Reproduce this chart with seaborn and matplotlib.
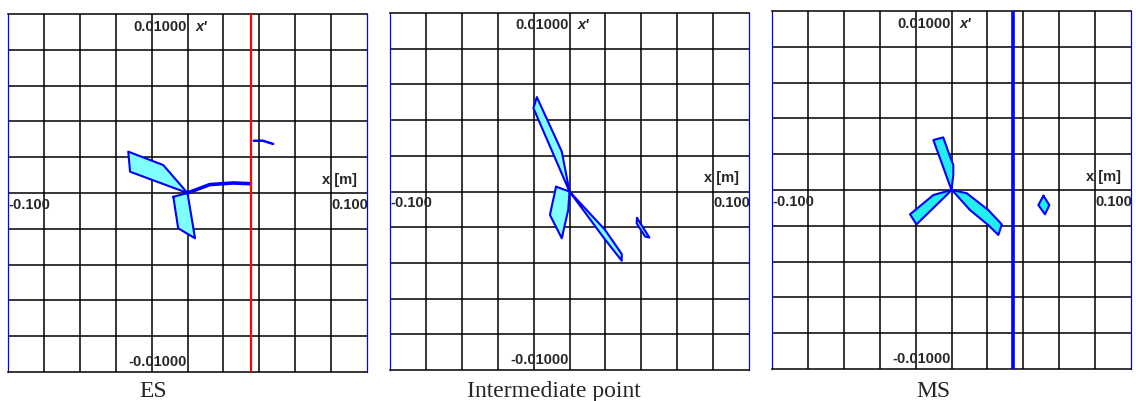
import matplotlib
matplotlib.use("Agg")
import matplotlib.pyplot as plt
import seaborn as sns
import numpy as np
import pandas as pd

# ---------------- data ----------------
panel_titles = ["ES", "Intermediate point", "MS"]
x_ticks = [-0.10, -0.08, -0.06, -0.04, -0.02, 0.0, 0.02, 0.04, 0.06, 0.08, 0.10]
y_ticks = [-0.010, -0.008, -0.006, -0.004, -0.002, 0.0, 0.002, 0.004, 0.006, 0.008, 0.010]
x_min_label, x_max_label = "-0.100", "0.100"
y_min_label, y_max_label = "-0.01000", "0.01000"
y_axis_name = "x'"
x_axis_name = "x [m]"

# ES
es_blade1_x = [0.0, -0.0135, -0.0330, -0.0320, 0.0]
es_blade1_y = [0.0, 0.00156, 0.00231, 0.00119, 0.0]
es_blade2_x = [-0.0079, 0.0, 0.0042, -0.0052, -0.0079]
es_blade2_y = [-0.00021, 0.0, -0.00253, -0.00197, -0.00021]
es_blade3_x = [0.0, 0.0124, 0.0254, 0.0351]
es_blade3_y = [0.0, 0.00047, 0.00056, 0.00052]
es_piece_x = [0.0369, 0.0420, 0.0477]
es_piece_y = [0.00292, 0.00292, 0.00274]
es_line_x = 0.0356

# Intermediate point
ip_bladeA_x = [0.0, -0.0043, -0.0182, -0.0201, 0.0]
ip_bladeA_y = [0.0, 0.00224, 0.00529, 0.00467, 0.0]
ip_bladeB_x = [-0.0075, 0.0, -0.0007, -0.0043, -0.0109, -0.0075]
ip_bladeB_y = [0.00027, 0.0, -0.00103, -0.00262, -0.00131, 0.00027]
ip_bladeC_x = [0.0, 0.0198, 0.0291, 0.0291, 0.0195, 0.0]
ip_bladeC_y = [0.0, -0.00215, -0.00350, -0.00388, -0.00265, 0.0]
ip_piece_x = [0.0376, 0.0445, 0.0421, 0.0374, 0.0376]
ip_piece_y = [-0.00148, -0.00258, -0.00252, -0.00178, -0.00148]

# MS
ms_blade1_x = [0.0, -0.0101, -0.0046, -0.0008, 0.0010, 0.0010, 0.0]
ms_blade1_y = [0.0, 0.00279, 0.00294, 0.00186, 0.00140, 0.00084, 0.0]
ms_blade2_x = [0.0, -0.0101, -0.0231, -0.0195, -0.0027, 0.0]
ms_blade2_y = [0.0, -0.00028, -0.00136, -0.00192, -0.00028, 0.0]
ms_blade3_x = [0.0, 0.0085, 0.0205, 0.0280, 0.0261, 0.0205, 0.0103, 0.0019, 0.0]
ms_blade3_y = [0.0, -0.00018, -0.00112, -0.00192, -0.00251, -0.00196, -0.00112, -0.00018, 0.0]
ms_piece_x = [0.0512, 0.0545, 0.0521, 0.0484, 0.0512]
ms_piece_y = [-0.00032, -0.00084, -0.00136, -0.00084, -0.00032]
ms_line_x = 0.0344

# ---------------- figure ----------------
sns.set_theme(style="white")
plt.rcParams['font.family'] = ['Liberation Sans', 'DejaVu Sans']

fig = plt.figure(figsize=(11.36, 4.01), dpi=100)
W, H = 1136.0, 401.0
panel_px = [(8, 14, 359, 358), (390, 13, 359, 357), (772, 11, 359, 358)]
title_px = [153, 554, 933]
axes = []
for (l, t, w, h) in panel_px:
    ax = fig.add_axes([l / W, 1 - (t + h) / H, w / W, h / H])
    axes.append(ax)

light = "#80FFFF"
strong = "#22EEEE"
edge = "#0000FF"

def setup(ax):
    ax.set_xlim(-0.1, 0.1)
    ax.set_ylim(-0.01, 0.01)
    for xv in x_ticks[1:-1]:
        ax.axvline(xv, color="black", lw=1.1, zorder=1)
    for yv in y_ticks[1:-1]:
        ax.axhline(yv, color="black", lw=1.1, zorder=1)
    ax.set_xticks([])
    ax.set_yticks([])
    for s in ["top", "bottom"]:
        ax.spines[s].set_color("black")
        ax.spines[s].set_linewidth(1.1)
    for s in ["left", "right"]:
        ax.spines[s].set_color(edge)
        ax.spines[s].set_linewidth(0.9)
    fs = 10.5
    ax.text(-0.0002, 0.0093, y_max_label, ha="right", va="center", fontsize=fs, fontweight="bold", zorder=5)
    ax.text(0.0047, 0.0093, y_axis_name, ha="left", va="center", fontsize=fs, fontweight="bold", style="italic", zorder=5)
    ax.text(-0.0002, -0.00944, y_min_label, ha="right", va="center", fontsize=fs, fontweight="bold", zorder=5)
    ax.text(-0.1, -0.00067, x_min_label, ha="left", va="center", fontsize=fs, fontweight="bold", zorder=5)
    ax.text(0.1005, -0.00067, x_max_label, ha="right", va="center", fontsize=fs, fontweight="bold", zorder=5)
    ax.text(0.0748, 0.00073, x_axis_name, ha="left", va="center", fontsize=fs, fontweight="bold", zorder=5)

def blade(ax, xs, ys, fc):
    ax.fill(xs, ys, facecolor=fc, edgecolor="none", zorder=3)
    df = pd.DataFrame({"x": xs, "y": ys})
    sns.lineplot(data=df, x="x", y="y", sort=False, estimator=None, color=edge, lw=1.5, ax=ax, zorder=4)

for ax in axes:
    setup(ax)

# ES
ax = axes[0]
blade(ax, es_blade1_x, es_blade1_y, light)
blade(ax, es_blade2_x, es_blade2_y, light)
sns.lineplot(x=es_blade3_x, y=es_blade3_y, sort=False, estimator=None, color=edge, lw=2.6, ax=ax, zorder=4)
sns.lineplot(x=es_piece_x, y=es_piece_y, sort=False, estimator=None, color=edge, lw=1.8, ax=ax, zorder=4)
ax.axvline(es_line_x, color="#FF0000", lw=1.6, zorder=4)

# Intermediate
ax = axes[1]
blade(ax, ip_bladeA_x, ip_bladeA_y, light)
blade(ax, ip_bladeB_x, ip_bladeB_y, light)
blade(ax, ip_bladeC_x, ip_bladeC_y, light)
blade(ax, ip_piece_x, ip_piece_y, light)

# MS
ax = axes[2]
blade(ax, ms_blade1_x, ms_blade1_y, strong)
blade(ax, ms_blade2_x, ms_blade2_y, strong)
blade(ax, ms_blade3_x, ms_blade3_y, strong)
blade(ax, ms_piece_x, ms_piece_y, strong)
ax.axvline(ms_line_x, color=edge, lw=2.6, zorder=4)

for ax in axes:
    ax.set_xlabel("")
    ax.set_ylabel("")
    ax.set_xlim(-0.1, 0.1)
    ax.set_ylim(-0.01, 0.01)

for title, cx in zip(panel_titles, title_px):
    fig.text(cx / W, 1 - 397 / H, title, ha="center", va="baseline",
             fontsize=17, family=["Liberation Serif", "DejaVu Serif"])

fig.savefig("out.png", dpi=100)
